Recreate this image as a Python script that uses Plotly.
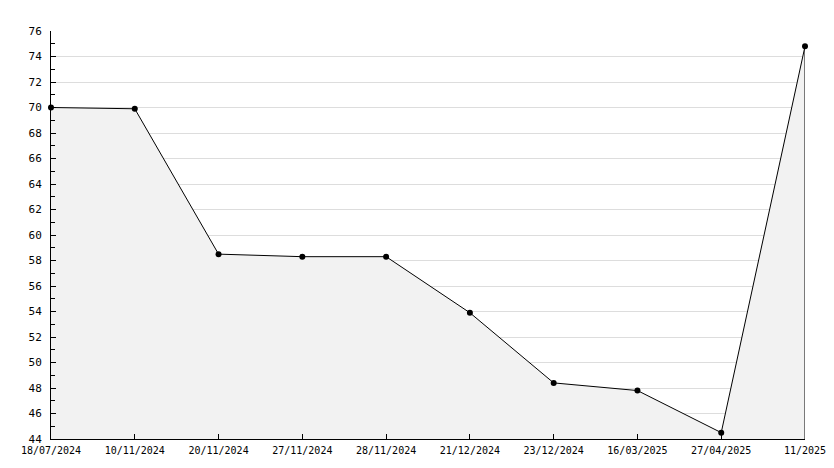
import plotly.graph_objects as go

dates = ["18/07/2024", "10/11/2024", "20/11/2024", "27/11/2024", "28/11/2024",
         "21/12/2024", "23/12/2024", "16/03/2025", "27/04/2025", "11/2025"]
values = [70.0, 69.9, 58.5, 58.3, 58.3, 53.9, 48.4, 47.8, 44.5, 74.8]
y_min, y_max = 44, 76

fig = go.Figure()
fig.add_trace(go.Scatter(
    x=dates, y=values, mode="lines+markers",
    fill="tozeroy", fillcolor="#f2f2f2",
    line=dict(color="black", width=1),
    marker=dict(color="black", size=6, symbol="circle"),
    cliponaxis=False,
    hoverinfo="skip",
))
fig.add_trace(go.Scatter(
    x=[dates[-1], dates[-1]], y=[values[-1], y_min], mode="lines",
    line=dict(color="black", width=1), hoverinfo="skip",
))

xfont = dict(family="DejaVu Sans Mono", size=10, color="black")
yfont = dict(family="DejaVu Sans Mono", size=11, color="black")
fig.update_layout(
    width=834, height=468,
    margin=dict(l=51, r=29, t=31, b=29, autoexpand=False),
    paper_bgcolor="white", plot_bgcolor="white",
    showlegend=False,
    font=xfont,
    xaxis=dict(type="category", range=[0, 9], showgrid=False, automargin=False,
               showline=True, linecolor="black", linewidth=1,
               ticks="inside", ticklen=5, tickcolor="black",
               ticklabelstandoff=2,
               tickfont=xfont, zeroline=False),
    yaxis=dict(range=[y_min, y_max], dtick=2, tick0=44, showgrid=True, automargin=False,
               gridcolor="#dddddd", gridwidth=1,
               showline=True, linecolor="black", linewidth=1,
               ticks="inside", ticklen=5, tickcolor="black",
               ticklabelstandoff=6,
               minor=dict(dtick=1, ticks="inside", ticklen=4, tickcolor="black", showgrid=False),
               tickfont=yfont, zeroline=False),
)
fig.write_html("out.html", config={"displayModeBar": False},
               post_script="document.body.style.margin='0';document.body.style.overflow='hidden';")
